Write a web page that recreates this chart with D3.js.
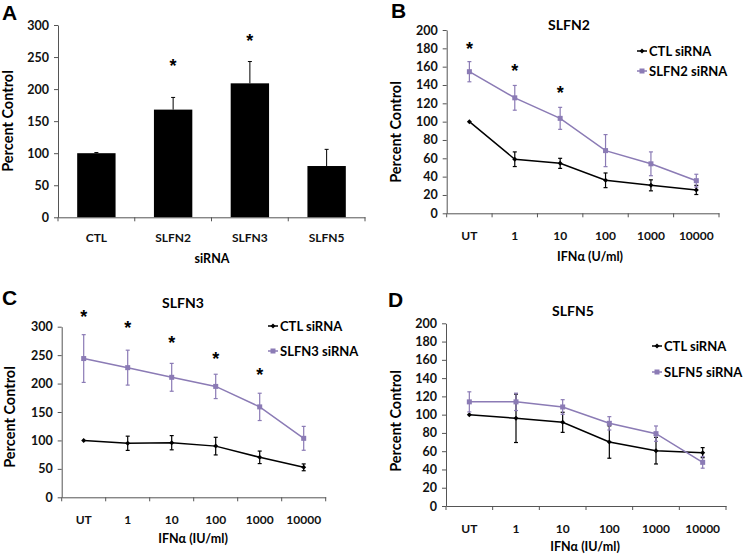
<!DOCTYPE html>
<meta charset="utf-8">
<title>SLFN siRNA</title>
<script src="https://d3js.org/d3.v7.min.js"></script>
<style>
body { margin: 0; background: #fff; }
svg { display: block; }
</style>
<body>
<script>
const font = 'Lato, "Open Sans", sans-serif';
const purple = '#8b7bb5';
const axisColor = '#555';

// Panel A
const barCategories = ['CTL', 'SLFN2', 'SLFN3', 'SLFN5'];
const barValues = [100, 168, 209, 80];
const barErrors = [1, 19, 34, 26];
const barStars = [null, 243, 283, null];
const barTicks = [0, 50, 100, 150, 200, 250, 300];

// Panels B-D share the dose axis
const doses = ['UT', '1', '10', '100', '1000', '10000'];

const ctlB = [100, 59, 54.5, 36, 30.5, 25.5];
const ctlBErr = [0, 8, 5.5, 8, 6, 5];
const slfn2B = [154.5, 126, 103.6, 68.4, 54, 35.6];
const slfn2BErr = [11, 13.5, 12, 17.5, 13, 7];
const starsB = [185, 160, 136, null, null, null];

const ctlC = [100, 95, 96, 90, 70.3, 52.7];
const ctlCErr = [0, 12.5, 12.5, 15.5, 11, 6];
const slfn3C = [244, 228, 211, 195, 159, 103.7];
const slfn3CErr = [42, 30.7, 24.5, 21.4, 24, 21];
const starsC = [326, 306, 279.5, 251.3, 223.7, null];

const ctlD = [100, 96, 91.6, 70, 60.6, 58.4];
const ctlDErr = [0, 26.5, 11, 17.7, 14.6, 5.5];
const slfn5D = [114, 114, 108.4, 90.5, 79.2, 47.8];
const slfn5DErr = [11, 9.5, 8, 7.3, 8.4, 6.4];
const starsD = [null, null, null, null, null, null];

const ticks200 = [0, 20, 40, 60, 80, 100, 120, 140, 160, 180, 200];
const ticks300 = [0, 50, 100, 150, 200, 250, 300];

const svg = d3.select('body').append('svg')
	.attr('width', 745)
	.attr('height', 557)
	.attr('font-family', font)
	.attr('font-weight', 700);

svg.append('rect').attr('width', 745).attr('height', 557).attr('fill', '#fff');

function panelLetter(letter, x, y) {
	svg.append('text')
		.attr('x', x).attr('y', y)
		.attr('font-family', 'Liberation Sans, Arial, sans-serif')
		.attr('font-size', 21)
		.attr('font-weight', 700)
		.text(letter);
}

function yAxis(g, y, ticks) {
	const ax = g.append('g')
		.call(d3.axisLeft(y).tickValues(ticks).tickSize(4).tickSizeOuter(0).tickPadding(5));
	ax.selectAll('path, line').attr('stroke', axisColor);
	ax.selectAll('text').attr('font-size', 12.5).attr('font-family', font).attr('font-weight', 700).attr('fill', '#111');
}

function xAxis(g, xTicks, y0, labelPad) {
	const ax = g.append('g')
		.attr('transform', `translate(0,${y0})`)
		.call(d3.axisBottom(xTicks).tickSize(0).tickPadding(labelPad));
	ax.select('.domain').attr('stroke', axisColor);
	ax.selectAll('text').attr('font-size', 12).attr('font-family', font).attr('font-weight', 700).attr('fill', '#111');
	// tick marks sit on the category boundaries
	const bounds = xTicks.domain().map(d => xTicks(d)).concat([xTicks.range()[1]]);
	g.append('g').selectAll('line')
		.data(bounds)
		.join('line')
		.attr('x1', d => d).attr('x2', d => d)
		.attr('y1', y0).attr('y2', y0 + 4)
		.attr('stroke', axisColor);
}

function yTitle(x, y) {
	svg.append('text')
		.attr('transform', `translate(${x},${y}) rotate(-90)`)
		.attr('text-anchor', 'middle')
		.attr('dy', '0.35em')
		.attr('font-size', 14.5)
		.text('Percent Control');
}

// asterisk centred on (x, y)
function star(g, x, y) {
	g.append('text')
		.attr('x', x).attr('y', y)
		.attr('dy', '0.6em')
		.attr('text-anchor', 'middle')
		.attr('font-size', 18)
		.attr('font-family', 'Liberation Sans, Arial, sans-serif')
		.attr('font-weight', 700)
		.text('*');
}

// ---- Panel A: bars
(function() {
	const g = svg.append('g');
	const xTicks = d3.scaleBand().domain(barCategories).range([58, 365]);
	const xBars = d3.scaleBand().domain(barCategories).range([58, 365]).paddingInner(0.5).paddingOuter(0.25);
	const y = d3.scaleLinear().domain([0, 300]).range([217.3, 25]);

	g.selectAll('.bar')
		.data(barCategories)
		.join('rect')
		.attr('x', d => xBars(d))
		.attr('width', xBars.bandwidth())
		.attr('y', (d, i) => y(barValues[i]))
		.attr('height', (d, i) => y(0) - y(barValues[i]))
		.attr('fill', '#000');

	barCategories.forEach((d, i) => {
		const cx = xBars(d) + xBars.bandwidth() / 2;
		g.append('line')
			.attr('x1', cx).attr('x2', cx)
			.attr('y1', y(barValues[i])).attr('y2', y(barValues[i] + barErrors[i]))
			.attr('stroke', '#000').attr('stroke-width', 1);
		g.append('line')
			.attr('x1', cx - 2).attr('x2', cx + 2)
			.attr('y1', y(barValues[i] + barErrors[i])).attr('y2', y(barValues[i] + barErrors[i]))
			.attr('stroke', '#000').attr('stroke-width', 1);
		if (barStars[i] != null) star(g, cx, y(barStars[i]));
	});

	yAxis(g.append('g').attr('transform', 'translate(58,0)'), y, barTicks);
	xAxis(g, xTicks, 217.3, 16);
	g.append('text')
		.attr('x', 212).attr('y', 263)
		.attr('text-anchor', 'middle')
		.attr('font-size', 12.5)
		.text('siRNA');
	yTitle(8, 121);
	panelLetter('A', 2, 20);
})();

// ---- Panels B-D: dose response lines
function linePanel(opts) {
	const g = svg.append('g');
	const x = d3.scaleBand().domain(doses).range(opts.xRange);
	const y = d3.scaleLinear().domain([0, opts.yMax]).range(opts.yRange);
	const cx = d => x(d) + x.bandwidth() / 2;

	yAxis(g.append('g').attr('transform', `translate(${opts.xRange[0]},0)`), y, opts.ticks);
	xAxis(g, x, opts.yRange[0], 18);

	const series = [
		{ values: opts.ctl, errors: opts.ctlErr, color: '#000', marker: 'diamond' },
		{ values: opts.kd, errors: opts.kdErr, color: purple, marker: 'square' },
	];

	series.forEach(s => {
		const line = d3.line().x((v, i) => cx(doses[i])).y(v => y(v));
		g.append('path')
			.attr('d', line(s.values))
			.attr('fill', 'none')
			.attr('stroke', s.color)
			.attr('stroke-width', 1.5);
		s.values.forEach((v, i) => {
			const px = cx(doses[i]);
			if (s.errors[i] > 0) {
				g.append('line')
					.attr('x1', px).attr('x2', px)
					.attr('y1', y(v - s.errors[i])).attr('y2', y(v + s.errors[i]))
					.attr('stroke', s.color).attr('stroke-width', 1.2);
				[v - s.errors[i], v + s.errors[i]].forEach(e => {
					g.append('line')
						.attr('x1', px - 2).attr('x2', px + 2)
						.attr('y1', y(e)).attr('y2', y(e))
						.attr('stroke', s.color).attr('stroke-width', 1.2);
				});
			}
			drawMarker(g, s.marker, px, y(v), s.color);
		});
	});

	opts.stars.forEach((v, i) => {
		if (v != null) star(g, cx(doses[i]), y(v));
	});

	// title
	g.append('text')
		.attr('x', opts.title[1]).attr('y', opts.title[2])
		.attr('text-anchor', 'middle')
		.attr('font-size', 14)
		.text(opts.title[0]);

	// x title
	g.append('text')
		.attr('x', opts.xTitle[1]).attr('y', opts.xTitle[2])
		.attr('text-anchor', 'middle')
		.attr('font-size', 12.5)
		.text(opts.xTitle[0]);

	// legend
	const leg = opts.legend;
	[[opts.labels[0], '#000', 'diamond'], [opts.labels[1], purple, 'square']].forEach((l, i) => {
		const ly = leg.y[i];
		g.append('line')
			.attr('x1', leg.x).attr('x2', leg.x + 10)
			.attr('y1', ly).attr('y2', ly)
			.attr('stroke', l[1]).attr('stroke-width', 1.5);
		drawMarker(g, l[2], leg.x + 5, ly, l[1]);
		g.append('text')
			.attr('x', leg.x + 12).attr('y', ly)
			.attr('dy', '0.35em')
			.attr('font-size', 13)
			.text(l[0]);
	});

	yTitle(opts.yTitle[0], opts.yTitle[1]);
}

function drawMarker(g, type, x, y, color) {
	if (type === 'square') {
		g.append('rect')
			.attr('x', x - 2.5).attr('y', y - 2.5)
			.attr('width', 5).attr('height', 5)
			.attr('fill', color);
	} else {
		g.append('path')
			.attr('d', `M${x},${y - 2.5}L${x + 2.5},${y}L${x},${y + 2.5}L${x - 2.5},${y}Z`)
			.attr('fill', color);
	}
}

linePanel({
	xRange: [446.7, 719], yRange: [213.3, 30], yMax: 200, ticks: ticks200,
	ctl: ctlB, ctlErr: ctlBErr, kd: slfn2B, kdErr: slfn2BErr, stars: starsB,
	title: ['SLFN2', 569, 30], xTitle: ['IFNα (U/ml)', 590, 261],
	labels: ['CTL siRNA', 'SLFN2 siRNA'], legend: { x: 637, y: [51, 71] },
	yTitle: [396, 132],
});
panelLetter('B', 391, 18);

linePanel({
	xRange: [61.7, 325.7], yRange: [497.3, 326.7], yMax: 300, ticks: ticks300,
	ctl: ctlC, ctlErr: ctlCErr, kd: slfn3C, kdErr: slfn3CErr, stars: starsC,
	title: ['SLFN3', 183, 308], xTitle: ['IFNα (IU/ml)', 193, 543],
	labels: ['CTL siRNA', 'SLFN3 siRNA'], legend: { x: 268, y: [326, 351] },
	yTitle: [10, 417],
});
panelLetter('C', 2, 305);

linePanel({
	xRange: [446, 726], yRange: [506, 323.3], yMax: 200, ticks: ticks200,
	ctl: ctlD, ctlErr: ctlDErr, kd: slfn5D, kdErr: slfn5DErr, stars: starsD,
	title: ['SLFN5', 573, 316], xTitle: ['IFNα (IU/ml)', 585, 551],
	labels: ['CTL siRNA', 'SLFN5 siRNA'], legend: { x: 652, y: [346, 372] },
	yTitle: [396, 421],
});
panelLetter('D', 388, 307);
</script>
</body>
